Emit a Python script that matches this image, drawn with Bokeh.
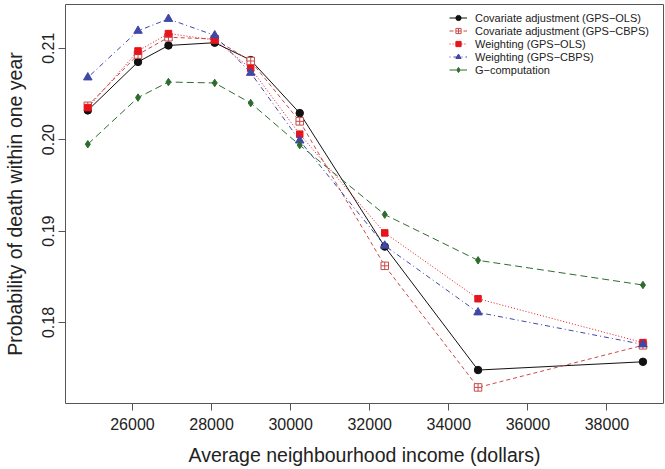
from bokeh.plotting import figure
from bokeh.models import (Range1d, FixedTicker, PrintfTickFormatter, Legend, LegendItem)
from bokeh.embed import file_html
from bokeh.resources import INLINE

# Data
income = [24870, 26140, 26910, 28080, 28990, 30230, 32380, 34740, 38910]

cov_ols  = [0.2032, 0.2085, 0.2103, 0.2106, 0.2087, 0.2029, 0.1883, 0.1748, 0.1757]
cov_cbps = [0.2037, 0.2093, 0.2112, 0.2110, 0.2086, 0.2020, 0.1862, 0.1729, 0.1775]
w_ols    = [0.2035, 0.2097, 0.2116, 0.2109, 0.2078, 0.2006, 0.1898, 0.1826, 0.1778]
w_cbps   = [0.2068, 0.2119, 0.2132, 0.2114, 0.2073, 0.1999, 0.1884, 0.1811, 0.1776]
g_comp   = [0.1995, 0.2046, 0.2063, 0.2062, 0.2040, 0.1994, 0.1918, 0.1868, 0.1841]

x_ticks = [26000, 28000, 30000, 32000, 34000, 36000, 38000]
y_ticks = [0.18, 0.19, 0.20, 0.21]

labels = ["Covariate adjustment (GPS\u2212OLS)", "Covariate adjustment (GPS\u2212CBPS)",
          "Weighting (GPS\u2212OLS)", "Weighting (GPS\u2212CBPS)", "G\u2212computation"]

FONT = "Liberation Sans"
TXT = "#222222"

p = figure(width=665, height=469, output_backend="svg", toolbar_location=None,
           x_range=Range1d(24306, 39430), y_range=Range1d(0.17114, 0.21478),
           min_border_left=65, min_border_right=2, min_border_top=4, min_border_bottom=66)

p.xgrid.visible = False
p.ygrid.visible = False
p.outline_line_color = "#555555"
p.outline_line_width = 1
p.background_fill_color = "white"
p.border_fill_color = "white"

for ax in (p.xaxis[0], p.yaxis[0]):
    ax.axis_line_color = None
    ax.major_tick_in = 0
    ax.major_tick_out = 7
    ax.major_tick_line_color = "#555555"
    ax.minor_tick_line_color = None
    ax.major_label_text_font = FONT
    ax.major_label_text_font_size = "16px"
    ax.major_label_text_color = TXT
    ax.axis_label_text_font = FONT
    ax.axis_label_text_font_size = "19.5px"
    ax.axis_label_text_font_style = "normal"
    ax.axis_label_text_color = TXT

p.xaxis.ticker = FixedTicker(ticks=x_ticks)
p.yaxis.ticker = FixedTicker(ticks=y_ticks)
p.yaxis.formatter = PrintfTickFormatter(format="%.2f")
p.yaxis.major_label_orientation = "vertical"
p.xaxis.axis_label = "Average neighbourhood income (dollars)"
p.yaxis.axis_label = "Probability of death within one year"
p.xaxis.major_label_standoff = 7
p.xaxis.axis_label_standoff = 11
p.yaxis.major_label_standoff = 4
p.yaxis.axis_label_standoff = 14

series = [
    (cov_ols,  "#111111", "solid",   "circle",       7.5, 1.0, "#111111"),
    (cov_cbps, "#C84A4A", "4 3",     "square_cross", 7.5, 1.0, None),
    (w_ols,    "#E8141B", "1 2",     "square",       6.5, 1.0, "#E8141B"),
    (w_cbps,   "#3F48A6", "1 3 5 3", "triangle",     8.5, 1.0, "#3F48A6"),
    (g_comp,   "#2E6B2E", "7 4",     "diamond",      7.5, 1.0, "#2E6B2E"),
]

items = []
for (ys, col, dash, mk, sz, lw, fill), lab in zip(series, labels):
    r1 = p.line(income, ys, line_color=col, line_dash=dash, line_width=lw)
    r2 = p.scatter(income, ys, marker=mk, size=sz, line_color=col,
                   fill_color=fill if fill else "white", line_width=1)
    items.append(LegendItem(label=lab, renderers=[r1, r2]))

legend = Legend(items=items, location=(384, 327), border_line_color=None,
                background_fill_alpha=0, padding=0, spacing=0, margin=0,
                label_text_font=FONT, label_text_font_size="11px",
                label_text_color=TXT, glyph_width=18, glyph_height=13,
                label_height=13, label_standoff=8)
p.add_layout(legend)

open("out.html", "w").write(file_html(p, INLINE))
